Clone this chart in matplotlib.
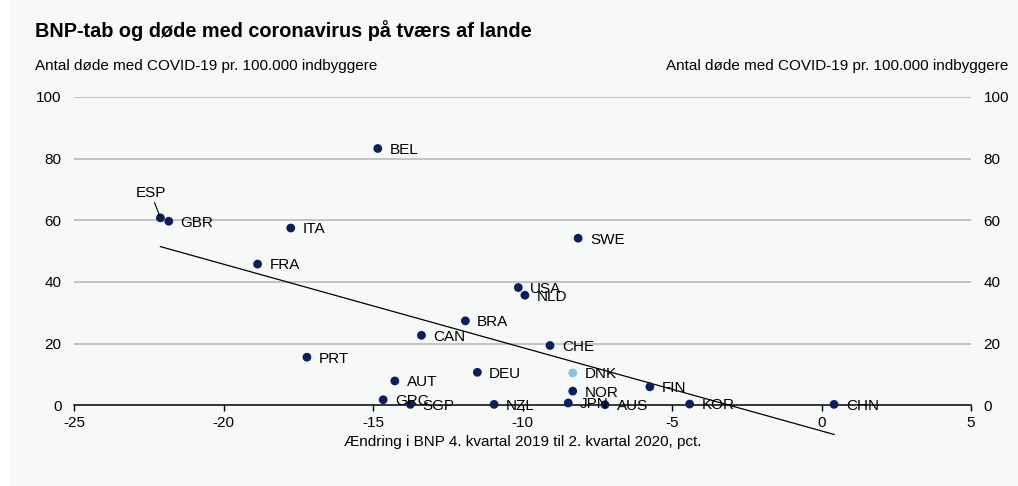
import numpy as np
import matplotlib
matplotlib.use("Agg")
import matplotlib.pyplot as plt
from matplotlib.patches import Rectangle

plt.rcParams['font.family'] = ['Liberation Sans', 'DejaVu Sans']

# data
countries = ["BEL", "ESP", "GBR", "ITA", "FRA", "SWE", "USA", "NLD", "BRA", "CAN",
             "CHE", "PRT", "DEU", "DNK", "AUT", "NOR", "FIN", "GRC", "SGP", "NZL",
             "JPN", "AUS", "KOR", "CHN"]
gdp_change = [-14.84, -22.11, -21.83, -17.75, -18.86, -8.14, -10.14, -9.92, -11.91, -13.38,
              -9.08, -17.21, -11.51, -8.32, -14.27, -8.32, -5.74, -14.66, -13.75, -10.95,
              -8.47, -7.24, -4.41, 0.42]
deaths = [83.3, 60.8, 59.7, 57.5, 45.8, 54.2, 38.2, 35.7, 27.4, 22.7,
          19.4, 15.6, 10.7, 10.5, 7.9, 4.6, 6.0, 1.8, 0.3, 0.3,
          0.75, 0.2, 0.4, 0.3]
highlight = "DNK"
x_ticks = [-25, -20, -15, -10, -5, 0, 5]
y_ticks = [0, 20, 40, 60, 80, 100]

navy = "#0b1f5c"
light = "#7cc8ea"
grid_col = "#bfbfbf"
bg = "#f7f9f9"

fig = plt.figure(figsize=(10.18, 4.86), dpi=100)
fig.patches.append(Rectangle((10 / 1018, 1 / 486), 1 - 10 / 1018, 1 - 1 / 486,
                             transform=fig.transFigure, color=bg, zorder=-10))

ax = fig.add_axes([74 / 1018, 1 - 405.3 / 486, (971 - 74) / 1018, (405.3 - 97) / 486])
ax.set_facecolor("none")
ax.set_xlim(-25, 5)
ax.set_ylim(0, 100)

for s in ["top", "left", "right"]:
    ax.spines[s].set_visible(False)
ax.spines["bottom"].set_color("black")
ax.spines["bottom"].set_linewidth(1.1)

ax.set_xticks(x_ticks)
ax.set_xticklabels([str(t) for t in x_ticks], fontsize=11)
ax.tick_params(axis="x", direction="out", length=4, width=1, pad=4)
ax.set_yticks(y_ticks)
ax.set_yticklabels([str(t) for t in y_ticks], fontsize=11)
ax.tick_params(axis="y", length=0, pad=9, labelleft=True, labelright=True)
for t in y_ticks[1:]:
    ax.axhline(t, color=grid_col, lw=1.3, zorder=0)

# trend line (OLS fit across the data)
b, a = np.polyfit(gdp_change, deaths, 1)
xs = np.array([min(gdp_change), max(gdp_change)])
ax.plot(xs, a + b * xs, color="black", lw=0.9, clip_on=False, zorder=2)

colors = [light if c == highlight else navy for c in countries]
ax.scatter(gdp_change, deaths, s=40, c=colors, zorder=3, clip_on=False, linewidths=0)

for c, x, y in zip(countries, gdp_change, deaths):
    if c == "ESP":
        ax.annotate(c, (x, y), xytext=(-7, 13), textcoords="offset points",
                    ha="center", va="bottom", fontsize=11,
                    arrowprops=dict(arrowstyle="-", color="black", lw=0.8,
                                    shrinkA=0, shrinkB=2))
    else:
        ax.annotate(c, (x, y), xytext=(8.5, -1), textcoords="offset points",
                    ha="left", va="center", fontsize=11, zorder=4)

fig.text(35 / 1018, 1 - 31 / 486, "BNP-tab og døde med coronavirus på tværs af lande",
         fontsize=14.3, fontweight="bold", va="center", ha="left")
fig.text(35 / 1018, 1 - 66 / 486, "Antal døde med COVID-19 pr. 100.000 indbyggere",
         fontsize=11, va="center", ha="left")
fig.text(1008 / 1018, 1 - 66 / 486, "Antal døde med COVID-19 pr. 100.000 indbyggere",
         fontsize=11, va="center", ha="right")
ax.set_xlabel("Ændring i BNP 4. kvartal 2019 til 2. kvartal 2020, pct.", fontsize=11, labelpad=3)

fig.savefig("out.png", dpi=100, facecolor="white")
